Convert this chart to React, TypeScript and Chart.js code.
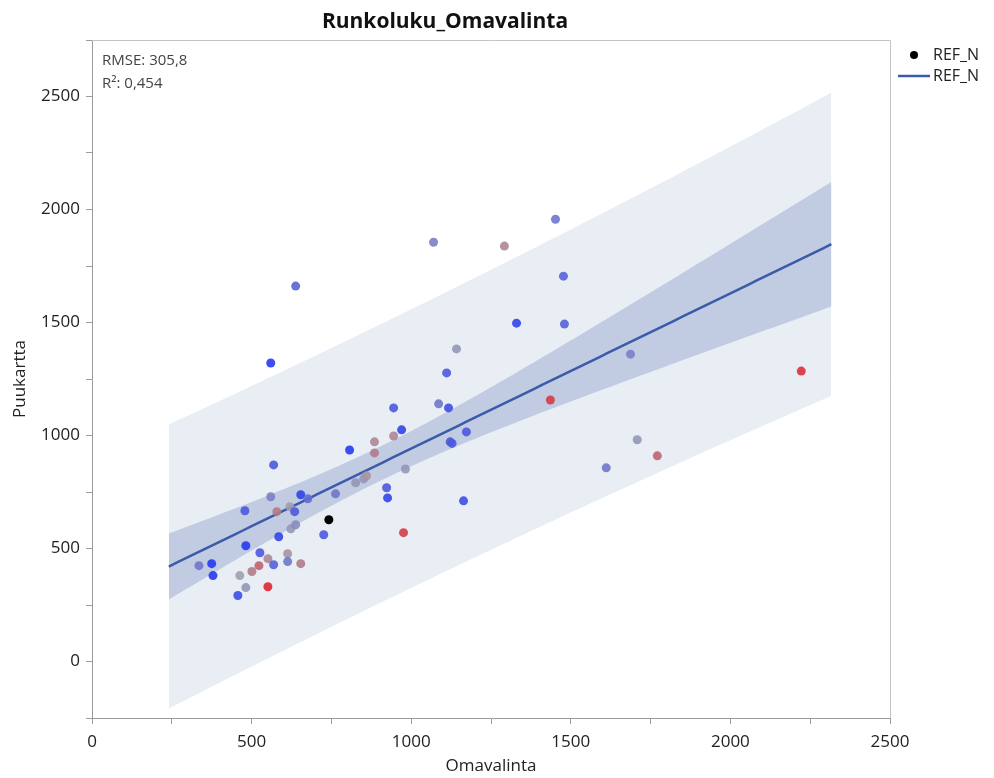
import { useEffect, useRef } from "react";
import { Chart, registerables } from "chart.js";

Chart.register(...registerables);

// Observations: Omavalinta (x) vs Puukartta (y), with a shading variable (0 = blue … 1 = red, null = reference stand)
const omavalinta = [
  335, 375, 379, 457, 482, 463, 501, 523, 551, 526,
  569, 551, 613, 613, 654, 482, 479, 560, 569, 654,
  676, 579, 620, 635, 623, 638, 585, 742, 726, 763,
  807, 826, 851, 860, 885, 885, 945, 945, 970, 982,
  923, 926, 976, 1086, 1117, 1122, 1128, 1173, 1164, 1111,
  1142, 1070, 1292, 1452, 1477, 1330, 1480, 1436, 1687, 2222,
  1708, 1771, 1611, 638, 560,
];
const puukartta = [
  424, 433, 380, 292, 327, 380, 398, 424, 455, 481,
  428, 331, 477, 442, 433, 512, 667, 729, 870, 738,
  720, 663, 685, 663, 587, 605, 552, 627, 561, 742,
  936, 791, 808, 822, 972, 923, 998, 1122, 1025, 852,
  769, 724, 570, 1140, 1122, 972, 965, 1016, 711, 1277,
  1383, 1855, 1838, 1957, 1705, 1497, 1493, 1157, 1360, 1285,
  981, 910, 857, 1661, 1321,
];
const shade: (number | null)[] = [
  0.3, 0, 0, 0.1, 0.45, 0.5, 0.65, 0.75, 0.6, 0.15,
  0.2, 1, 0.55, 0.3, 0.65, 0, 0.15, 0.35, 0.15, 0.05,
  0.25, 0.65, 0.5, 0.15, 0.45, 0.4, 0.05, null, 0.15, 0.3,
  0, 0.45, 0.45, 0.55, 0.6, 0.65, 0.6, 0.15, 0.05, 0.45,
  0.15, 0.05, 0.9, 0.3, 0.1, 0.15, 0.15, 0.15, 0.1, 0.15,
  0.45, 0.35, 0.6, 0.3, 0.2, 0.05, 0.2, 0.9, 0.35, 0.95,
  0.45, 0.75, 0.3, 0.2, 0,
];

const xTickValues = [0, 500, 1000, 1500, 2000, 2500];
const yTickValues = [0, 500, 1000, 1500, 2000, 2500];

// Linear fit summary
const fitIntercept = 255;
const fitSlope = 0.687;
const rmse = 305.8;
const rSquared = 0.454;
const tCritical = 2.0;
const fitXMean = 905;
const fitSxx = 1.06e7;

const TITLE = "Runkoluku_Omavalinta";
const X_TITLE = "Omavalinta";
const Y_TITLE = "Puukartta";
const SERIES = "REF_N";

const FONT = "'Open Sans', 'Noto Sans', sans-serif";
const LINE_BLUE = "#3b5ba8";

const BLUE = [38, 58, 242];
const GREY = [160, 160, 176];
const RED = [224, 36, 46];

function shadeColor(v: number | null): string {
  if (v === null) return "rgb(0,0,0)";
  const [from, to, t] = v <= 0.5 ? [BLUE, GREY, v / 0.5] : [GREY, RED, (v - 0.5) / 0.5];
  const c = from.map((f, i) => Math.round(f + (to[i] - f) * (t as number)));
  return `rgba(${c[0]},${c[1]},${c[2]},0.9)`;
}

const fi = (v: number, d: number) => v.toFixed(d).replace(".", ",");

function buildBands() {
  const n = omavalinta.length;
  const lo = Math.min(...omavalinta);
  const hi = Math.max(...omavalinta);
  const pad = (hi - lo) * 0.05;
  const start = lo - pad;
  const end = hi + pad;
  const steps = 80;
  const fit: { x: number; y: number }[] = [];
  const confU: { x: number; y: number }[] = [];
  const confL: { x: number; y: number }[] = [];
  const predU: { x: number; y: number }[] = [];
  const predL: { x: number; y: number }[] = [];
  for (let i = 0; i <= steps; i++) {
    const x = start + ((end - start) * i) / steps;
    const y = fitIntercept + fitSlope * x;
    const q = 1 / n + ((x - fitXMean) * (x - fitXMean)) / fitSxx;
    const hc = tCritical * rmse * Math.sqrt(q);
    const hp = tCritical * rmse * Math.sqrt(1 + q);
    fit.push({ x, y });
    confU.push({ x, y: y + hc });
    confL.push({ x, y: y - hc });
    predU.push({ x, y: y + hp });
    predL.push({ x, y: y - hp });
  }
  return { fit, confU, confL, predU, predL };
}

const decorations = {
  id: "decorations",
  afterDraw(chart: any) {
    const { ctx, chartArea } = chart;
    const { left, right, top, bottom } = chartArea;
    ctx.save();
    // frame: top and right edges
    ctx.strokeStyle = "#c4c4c4";
    ctx.lineWidth = 1;
    ctx.beginPath();
    ctx.moveTo(left, top + 0.5);
    ctx.lineTo(right + 0.5, top + 0.5);
    ctx.lineTo(right + 0.5, bottom);
    ctx.stroke();

    // title
    ctx.fillStyle = "#111";
    ctx.font = `bold 21px ${FONT}`;
    ctx.textAlign = "center";
    ctx.textBaseline = "middle";
    ctx.fillText(TITLE, (0 + right) / 2, 22);

    // fit statistics
    ctx.fillStyle = "#444";
    ctx.font = `15px ${FONT}`;
    ctx.textAlign = "left";
    ctx.fillText(`RMSE: ${fi(rmse, 1)}`, left + 10, top + 21);
    ctx.fillText(`R²: ${fi(rSquared, 3)}`, left + 10, top + 44);

    // legend
    const symX = 914;
    const txtX = 933;
    const row1 = 55;
    const row2 = 76;
    ctx.fillStyle = "#000";
    ctx.beginPath();
    ctx.arc(symX, row1, 4, 0, Math.PI * 2);
    ctx.fill();
    ctx.strokeStyle = LINE_BLUE;
    ctx.lineWidth = 2.5;
    ctx.beginPath();
    ctx.moveTo(symX - 16, row2);
    ctx.lineTo(symX + 16, row2);
    ctx.stroke();
    ctx.fillStyle = "#222";
    ctx.font = `16px ${FONT}`;
    ctx.fillText(SERIES, txtX, row1);
    ctx.fillText(SERIES, txtX, row2);
    ctx.restore();
  },
};

export default function App() {
  const ref = useRef<HTMLCanvasElement>(null);

  useEffect(() => {
    const canvas = ref.current;
    if (!canvas) return;
    const { fit, confU, confL, predU, predL } = buildBands();
    const points = omavalinta.map((x, i) => ({ x, y: puukartta[i] }));
    const tickFont = { family: FONT, size: 17 };
    const axisColor = "#9c9c9c";

    const chart = new Chart(canvas, {
      type: "scatter",
      data: {
        datasets: [
          {
            label: SERIES,
            data: points,
            order: 0,
            pointRadius: 4.5,
            pointHoverRadius: 4.5,
            borderWidth: 0,
            pointBackgroundColor: shade.map(shadeColor),
            pointBorderColor: shade.map(shadeColor),
          } as any,
          {
            data: fit,
            order: 1,
            showLine: true,
            pointRadius: 0,
            borderColor: LINE_BLUE,
            borderWidth: 2.5,
          },
          {
            data: confU,
            order: 2,
            showLine: true,
            pointRadius: 0,
            borderWidth: 0,
            fill: "+1",
            backgroundColor: "#c1cbe2",
          },
          {
            data: confL,
            order: 2,
            showLine: true,
            pointRadius: 0,
            borderWidth: 0,
          },
          {
            data: predU,
            order: 3,
            showLine: true,
            pointRadius: 0,
            borderWidth: 0,
            fill: "+1",
            backgroundColor: "#e9eef5",
          },
          {
            data: predL,
            order: 3,
            showLine: true,
            pointRadius: 0,
            borderWidth: 0,
          },
        ],
      },
      options: {
        responsive: false,
        animation: false,
        devicePixelRatio: 1,
        layout: { padding: { top: 40, right: 104, bottom: 0, left: 0 } },
        plugins: {
          legend: { display: false },
          tooltip: { enabled: false },
          title: { display: false },
        },
        scales: {
          x: {
            type: "linear",
            min: 0,
            max: 2500,
            ticks: {
              stepSize: 250,
              autoSkip: false,
              maxRotation: 0,
              padding: 8,
              color: "#222",
              font: tickFont,
              callback: (v: any) => (xTickValues.includes(Number(v)) ? String(v) : ""),
            },
            grid: { display: true, drawOnChartArea: false, drawTicks: true, tickLength: 6, color: axisColor },
            border: { display: true, color: axisColor, width: 1 },
            title: { display: true, text: X_TITLE, color: "#222", font: tickFont, padding: { top: 0, bottom: 2 } },
            afterFit: (s: any) => {
              s.height = 60;
            },
          },
          y: {
            type: "linear",
            min: -250,
            max: 2750,
            ticks: {
              stepSize: 250,
              autoSkip: false,
              padding: 6,
              color: "#222",
              font: tickFont,
              callback: (v: any) => (yTickValues.includes(Number(v)) ? String(v) : ""),
            },
            grid: { display: true, drawOnChartArea: false, drawTicks: true, tickLength: 6, color: axisColor },
            border: { display: true, color: axisColor, width: 1 },
            title: { display: true, text: Y_TITLE, color: "#222", font: tickFont, padding: { top: 10, bottom: 0 } },
            afterFit: (s: any) => {
              s.width = 92;
            },
          },
        },
      },
      plugins: [decorations],
    } as any);

    return () => chart.destroy();
  }, []);

  return (
    <canvas
      ref={ref}
      width={994}
      height={778}
      style={{ position: "absolute", left: 0, top: 0, width: "994px", height: "778px" }}
    />
  );
}
